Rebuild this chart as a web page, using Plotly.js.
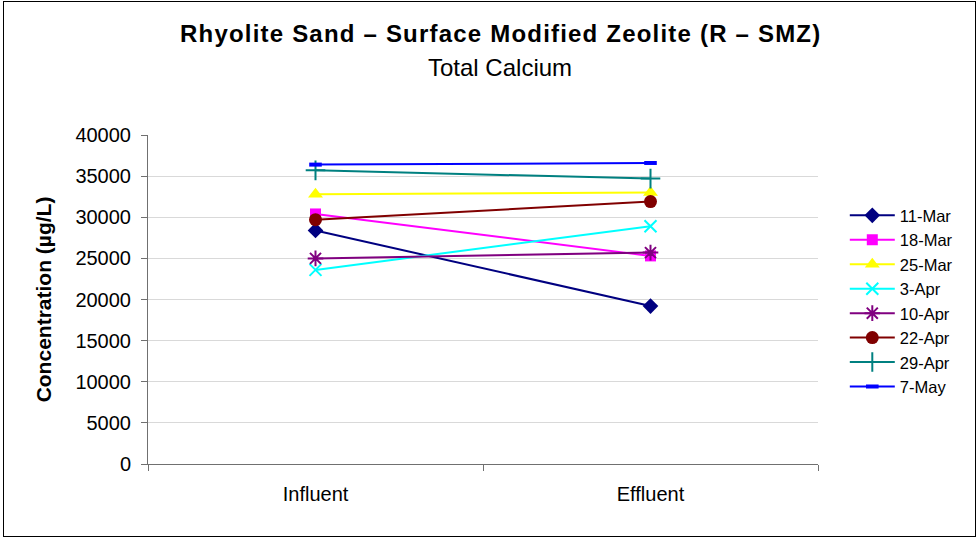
<!DOCTYPE html>
<html><head><meta charset="utf-8">
<script src="https://cdn.plot.ly/plotly-3.0.1.min.js"></script>
<style>
html,body{margin:0;padding:0;background:#fff;}
#chart{width:979px;height:539px;}
#chart g.annotation[data-index="0"] text{letter-spacing:1.2px;}
</style>
</head><body><div id="chart"></div>
<script>
var categories = ["Influent", "Effluent"];
var seriesNames = ["11-Mar", "18-Mar", "25-Mar", "3-Apr", "10-Apr", "22-Apr", "29-Apr", "7-May"];
var mar11 = [28400, 19200];
var mar18 = [30400, 25300];
var mar25 = [32800, 33000];
var apr3 = [23600, 28900];
var apr10 = [25000, 25700];
var apr22 = [29700, 31900];
var apr29 = [35700, 34700];
var may7 = [36400, 36600];
var seriesValues = [mar11, mar18, mar25, apr3, apr10, apr22, apr29, may7];
var colors = ["#000080", "#FF00FF", "#FFFF00", "#00FFFF", "#800080", "#800000", "#008080", "#0000FF"];
var symbols = ["diamond", "square", "triangle-up", "x-thin", "asterisk", "circle", "cross-thin", "line-ew"];
var sizes = [12, 11, 13, 12, 13, 13, 14, 9];

var traces = seriesNames.map(function(n, i){
  var s = symbols[i];
  var lw = 0;
  if (s === "x-thin" || s === "cross-thin" || s === "asterisk") lw = 2;
  if (s === "line-ew") lw = 4;
  return {
    x: categories, y: seriesValues[i], name: n, type: "scatter", mode: "lines+markers",
    line: {color: colors[i], width: 2},
    marker: {symbol: s, size: sizes[i], color: colors[i], line: {color: colors[i], width: lw}}
  };
});

var layout = {
  width: 979, height: 539,
  paper_bgcolor: "#fff", plot_bgcolor: "#fff",
  margin: {l: 148, r: 161, t: 135, b: 75},
  font: {family: "Liberation Sans, Arial, sans-serif", color: "#000", size: 16},
  showlegend: true,
  legend: {x: 1.04, xanchor: "left", y: 0.495, yanchor: "middle", font: {size: 16.5},
           tracegroupgap: 0, itemwidth: 45, bgcolor: "rgba(0,0,0,0)"},
  xaxis: {type: "category", range: [-0.5, 1.5], showgrid: false, tickson: "boundaries",
          ticks: "outside", ticklen: 6, tickcolor: "#707070", showline: true, linecolor: "#707070",
          linewidth: 1, tickfont: {size: 20}, zeroline: false, ticklabelstandoff: 12},
  yaxis: {range: [0, 40000], dtick: 5000, tickformat: "d", showgrid: true, gridcolor: "#d9d9d9", gridwidth: 1,
          ticks: "outside", ticklen: 6, tickcolor: "#707070", showline: true, linecolor: "#707070",
          zeroline: false, tickfont: {size: 20}, ticklabelstandoff: 6,
          title: {text: "<b>Concentration (µg/L)</b>", font: {size: 21}, standoff: 18}},
  annotations: [
    {text: "<b>Rhyolite Sand – Surface Modified Zeolite (R – SMZ)</b>", xref: "paper", yref: "paper",
     x: 0.5, y: 1, xanchor: "center", yanchor: "middle", xshift: 17, yshift: 102, showarrow: false, font: {size: 24}},
    {text: "Total Calcium", xref: "paper", yref: "paper",
     x: 0.5, y: 1, xanchor: "center", yanchor: "middle", xshift: 17, yshift: 68, showarrow: false, font: {size: 24}}
  ]
};
Plotly.newPlot("chart", traces, layout, {displayModeBar: false, staticPlot: true});
</script>
<div style="position:absolute;left:3px;top:1px;width:973px;height:536px;border:1.5px solid #000;pointer-events:none;box-sizing:border-box;"></div>
</body></html>
